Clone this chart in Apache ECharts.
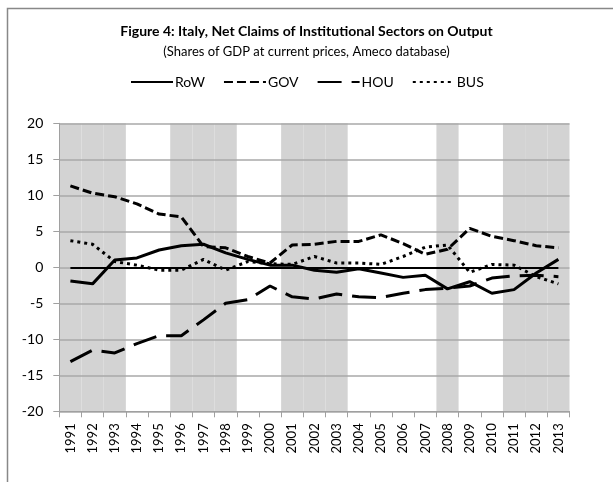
<!DOCTYPE html>
<html>
<head>
<meta charset="utf-8">
<script src="https://cdn.jsdelivr.net/npm/echarts@6/dist/echarts.min.js"></script>
<style>
  html, body { margin: 0; padding: 0; background: #fff; }
  #main { width: 613px; height: 482px; }
</style>
</head>
<body>
<div id="main"></div>
<script>
var years = ['1991', '1992', '1993', '1994', '1995', '1996', '1997', '1998', '1999', '2000', '2001', '2002',
  '2003', '2004', '2005', '2006', '2007', '2008', '2009', '2010', '2011', '2012', '2013']
var row = [-1.9, -2.3, 1.0, 1.3, 2.4, 3.0, 3.2, 2.0, 1.1, 0.3, 0.3, -0.4, -0.7, -0.2, -0.8, -1.4, -1.1, -3.0, -2.0, -3.6, -3.1, -0.8, 1.1]
var gov = [11.3, 10.3, 9.8, 8.8, 7.4, 7.0, 2.9, 2.7, 1.5, 0.6, 3.1, 3.2, 3.6, 3.6, 4.5, 3.3, 1.8, 2.5, 5.4, 4.3, 3.7, 3.0, 2.7]
var hou = [-13.1, -11.5, -11.9, -10.6, -9.5, -9.5, -7.3, -5.0, -4.5, -2.6, -4.1, -4.4, -3.7, -4.1, -4.2, -3.6, -3.1, -2.9, -2.6, -1.5, -1.2, -1.1, -1.3]
var bus = [3.7, 3.2, 0.8, 0.3, -0.4, -0.4, 1.1, -0.4, 0.8, 0.5, 0.4, 1.5, 0.6, 0.6, 0.4, 1.5, 2.8, 3.1, -0.7, 0.4, 0.3, -1.3, -2.3]
// shaded years (grey bands)
var shadedYears = ['1991', '1992', '1993', '1996', '1997', '1998', '2001', '2002', '2003', '2008', '2011', '2012', '2013']
var yTicks = { min: -20, max: 20, step: 5 }

var font = 'Lato, "Noto Sans", sans-serif'
var chart = echarts.init(document.getElementById('main'))

function lineSeries(name, data, dash) {
  return {
    name: name,
    type: 'line',
    data: data,
    symbol: 'none',
    z: 3,
    lineStyle: { color: '#000', width: 3, type: dash, cap: 'butt' },
    itemStyle: { color: '#000' }
  }
}

var shadeTop = years.map(function (y) { return shadedYears.indexOf(y) >= 0 ? yTicks.max : '-' })
var shadeBottom = years.map(function (y) { return shadedYears.indexOf(y) >= 0 ? yTicks.min : '-' })

var rowSeries = lineSeries('RoW', row, 'solid')
rowSeries.markLine = {
  silent: true,
  symbol: 'none',
  label: { show: false },
  lineStyle: { color: '#000', width: 2, type: 'solid' },
  data: [[{ coord: [years[0], 0] }, { coord: [years[years.length - 1], 0] }]]
}

chart.setOption({
  animation: false,
  textStyle: { fontFamily: font },
  graphic: [{
    type: 'rect',
    shape: { x: 7.5, y: 8.5, width: 700, height: 600 },
    style: { fill: 'none', stroke: '#888', lineWidth: 1.5 },
    silent: true
  }],
  title: [{
    text: 'Figure 4: Italy, Net Claims of Institutional Sectors on Output',
    left: 'center',
    top: 19,
    textStyle: { fontFamily: font, fontSize: 14, fontWeight: 'bold', color: '#000' }
  }, {
    text: '(Shares of GDP at current prices, Ameco database)',
    left: 'center',
    top: 40,
    textStyle: { fontFamily: font, fontSize: 13, fontWeight: 'normal', color: '#000' }
  }],
  legend: {
    data: ['RoW', 'GOV', 'HOU', 'BUS'],
    left: 125,
    top: 70,
    itemWidth: 42,
    itemHeight: 14,
    itemGap: 18,
    itemStyle: { opacity: 0, borderWidth: 0 },
    textStyle: { fontFamily: font, fontSize: 14, color: '#000', padding: [0, 0, 0, -3] }
  },
  grid: { left: 59.3, right: 43.5, top: 123.3, bottom: 70.7 },
  xAxis: {
    type: 'category',
    data: years,
    boundaryGap: true,
    axisLine: { onZero: false, lineStyle: { color: '#a0a0a0', width: 1 } },
    axisTick: { show: true, interval: 0, length: 6, lineStyle: { color: '#a0a0a0' } },
    axisLabel: { interval: 0, rotate: 90, margin: 12, fontSize: 13, color: '#000', fontFamily: font },
    splitLine: { show: false }
  },
  yAxis: {
    type: 'value',
    min: yTicks.min,
    max: yTicks.max,
    interval: yTicks.step,
    axisLine: { show: true, lineStyle: { color: '#a0a0a0', width: 1 } },
    axisTick: { show: true, length: 6, lineStyle: { color: '#a0a0a0' } },
    axisLabel: { margin: 16, fontSize: 14, color: '#000', fontFamily: font },
    splitLine: { lineStyle: { color: '#a8a8a8', width: 1.5 } }
  },
  series: [
    {
      name: 'shadeTop', type: 'bar', data: shadeTop, barWidth: '100%', barGap: '-100%',
      silent: true, z: -1, itemStyle: { color: '#d3d3d3' }
    },
    {
      name: 'shadeBottom', type: 'bar', data: shadeBottom, barWidth: '100%', barGap: '-100%',
      silent: true, z: -1, itemStyle: { color: '#d3d3d3' }
    },
    rowSeries,
    lineSeries('GOV', gov, [9, 4]),
    lineSeries('HOU', hou, [24, 10]),
    lineSeries('BUS', bus, [3, 4])
  ]
})
</script>
</body>
</html>
